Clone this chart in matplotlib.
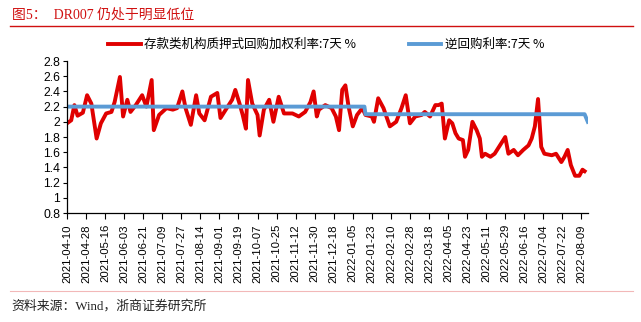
import matplotlib
matplotlib.use("Agg")
import matplotlib.pyplot as plt
import pandas as pd

plt.rcParams['font.family'] = ['Liberation Sans', 'Noto Sans CJK SC', 'DejaVu Sans']

# DR007 (depository institutions pledged repo weighted rate, 7d)
dr_dates = [
    '2021-04-10', '2021-04-14', '2021-04-17', '2021-04-20', '2021-04-25', '2021-04-29',
    '2021-05-03', '2021-05-08', '2021-05-12', '2021-05-17', '2021-05-22', '2021-05-25',
    '2021-05-30', '2021-06-02', '2021-06-06', '2021-06-09', '2021-06-14', '2021-06-20',
    '2021-06-24', '2021-06-29', '2021-07-01', '2021-07-06', '2021-07-13', '2021-07-19',
    '2021-07-23', '2021-07-28', '2021-07-31', '2021-08-05', '2021-08-10', '2021-08-13',
    '2021-08-18', '2021-08-24', '2021-08-30', '2021-09-02', '2021-09-07', '2021-09-13',
    '2021-09-16', '2021-09-20', '2021-09-23', '2021-09-26', '2021-09-28', '2021-10-02',
    '2021-10-07', '2021-10-09', '2021-10-13', '2021-10-18', '2021-10-22', '2021-10-27',
    '2021-11-01', '2021-11-09', '2021-11-15', '2021-11-21', '2021-11-26', '2021-11-29',
    '2021-12-02', '2021-12-04', '2021-12-10', '2021-12-16', '2021-12-20', '2021-12-23',
    '2021-12-26', '2021-12-29', '2022-01-01', '2022-01-05', '2022-01-09', '2022-01-14',
    '2022-01-17', '2022-01-23', '2022-01-25', '2022-01-29', '2022-02-03', '2022-02-09',
    '2022-02-15', '2022-02-20', '2022-02-24', '2022-02-28', '2022-03-05', '2022-03-11',
    '2022-03-14', '2022-03-19', '2022-03-24', '2022-03-27', '2022-03-30', '2022-04-02',
    '2022-04-06', '2022-04-09', '2022-04-12', '2022-04-15', '2022-04-19', '2022-04-21',
    '2022-04-24', '2022-04-28', '2022-05-02', '2022-05-05', '2022-05-07', '2022-05-10',
    '2022-05-15', '2022-05-19', '2022-05-24', '2022-05-29', '2022-06-01', '2022-06-06',
    '2022-06-10', '2022-06-15', '2022-06-20', '2022-06-23', '2022-06-26', '2022-06-29',
    '2022-07-02', '2022-07-05', '2022-07-12', '2022-07-16', '2022-07-21', '2022-07-24',
    '2022-07-27', '2022-07-30', '2022-08-03', '2022-08-07', '2022-08-10', '2022-08-12',
]
dr_vals = [
    1.98, 2.02, 2.22, 2.08, 2.12, 2.35,
    2.24, 1.78, 1.98, 2.11, 2.13, 2.26,
    2.59, 2.07, 2.29, 2.13, 2.22, 2.35,
    2.20, 2.55, 1.89, 2.09, 2.18, 2.16,
    2.18, 2.40, 2.18, 1.96, 2.35, 2.11,
    2.02, 2.33, 2.38, 2.05, 2.16, 2.29,
    2.42, 2.24, 2.09, 1.91, 2.55, 2.24,
    2.09, 1.82, 2.16, 2.29, 2.00, 2.33,
    2.11, 2.11, 2.07, 2.13, 2.26, 2.40,
    2.07, 2.16, 2.22, 2.18, 2.07, 1.89,
    2.42, 2.48, 2.20, 1.94, 2.09, 2.18,
    2.09, 2.07, 2.00, 2.31, 2.18, 1.94,
    2.00, 2.18, 2.35, 1.98, 2.07, 2.09,
    2.13, 2.07, 2.22, 2.22, 2.24, 1.78,
    2.02, 1.98, 1.85, 1.78, 1.76, 1.54,
    1.63, 2.00, 1.89, 1.78, 1.54, 1.58,
    1.54, 1.58, 1.69, 1.80, 1.58, 1.63,
    1.56, 1.63, 1.69, 1.78, 1.94, 2.30,
    1.67, 1.58, 1.56, 1.58, 1.47, 1.54,
    1.63, 1.43, 1.29, 1.29, 1.37, 1.35,
]

# 7-day reverse repo rate
rr_dates = ['2021-04-10', '2022-01-16', '2022-01-17', '2022-08-12', '2022-08-15']
rr_vals = [2.2, 2.2, 2.1, 2.1, 2.0]

tick_dates = pd.date_range('2021-04-10', '2022-08-09', freq='18D')
yticks = [0.8, 1, 1.2, 1.4, 1.6, 1.8, 2, 2.2, 2.4, 2.6, 2.8]

red = '#E00000'
blue = '#5B9BD5'
cjk_serif = ['Liberation Serif', 'Noto Sans CJK SC', 'DejaVu Sans']

fig = plt.figure(figsize=(6.41, 3.22), dpi=100)
ax = fig.add_axes([0.1045, 0.3385, 0.8125, 0.472])

l1, = ax.plot(pd.to_datetime(dr_dates), dr_vals, color=red, lw=2.8,
              label='存款类机构质押式回购加权利率:7天 %')
l2, = ax.plot(pd.to_datetime(rr_dates), rr_vals, color=blue, lw=2.8,
              label='逆回购利率:7天 %')

ax.set_ylim(0.8, 2.8)
ax.set_yticks(yticks)
ax.set_yticklabels(['%g' % v for v in yticks], fontsize=8.8)
ax.set_xlim(pd.Timestamp('2021-04-10'), pd.Timestamp('2022-08-15'))
ax.set_xticks(tick_dates)
ax.set_xticklabels([d.strftime('%Y-%m-%d') for d in tick_dates], rotation=90, fontsize=8.2)
ax.tick_params(axis='x', direction='out', length=4, width=0.8, pad=4)
ax.tick_params(axis='y', direction='out', length=3, width=0.8, pad=2)
for s in ['top', 'right']:
    ax.spines[s].set_visible(False)
for s in ['left', 'bottom']:
    ax.spines[s].set_linewidth(0.9)

fig.legend(handles=[l1, l2], loc='center', bbox_to_anchor=(0.509, 0.862), ncol=2,
           frameon=False, handlelength=2.6, handletextpad=0.3, columnspacing=4.2,
           prop={'family': ['Noto Sans CJK SC', 'DejaVu Sans'], 'size': 9.0})

fig.text(0.018, 0.955, '图5：  DR007 仍处于明显低位', color='#D01010', fontsize=10,
         va='center', family=cjk_serif)
fig.add_artist(plt.Line2D([0.016, 0.988], [0.919, 0.919], color='#D01010', lw=1))
fig.add_artist(plt.Line2D([0.016, 0.988], [0.097, 0.097], color='#F2B8B8', lw=0.8))
fig.text(0.018, 0.05, '资料来源：Wind，浙商证券研究所', color='#222222', fontsize=9.3,
         va='center', family=cjk_serif)

fig.savefig('out.png', dpi=100)
